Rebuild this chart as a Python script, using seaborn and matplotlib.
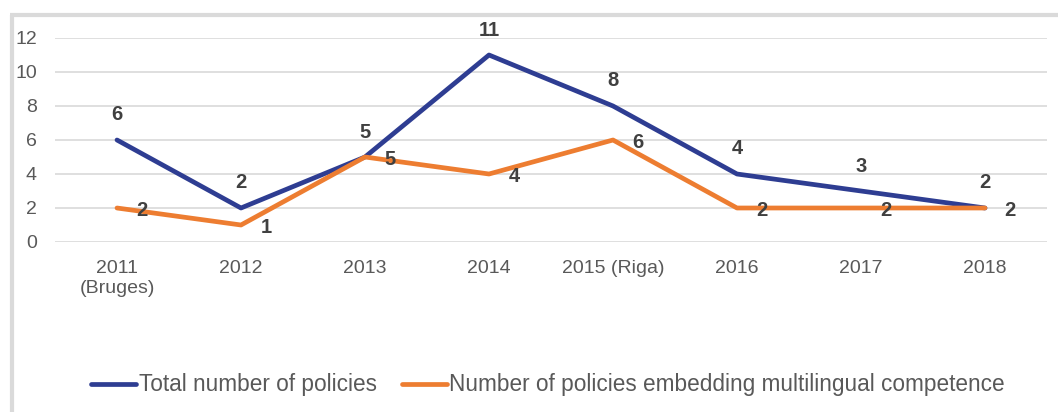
import numpy as np
import pandas as pd
import matplotlib.pyplot as plt
from matplotlib.lines import Line2D
import seaborn as sns

years = ["2011\n(Bruges)", "2012", "2013", "2014", "2015 (Riga)", "2016", "2017", "2018"]
total_policies = [6, 2, 5, 11, 8, 4, 3, 2]
multilingual_policies = [2, 1, 5, 4, 6, 2, 2, 2]
series_names = ["Total number of policies",
                "Number of policies embedding multilingual competence"]
y_ticks = [0, 2, 4, 6, 8, 10, 12]

BLUE = "#2E3D92"
ORANGE = "#ED7D31"
GRID = "#D9D9D9"
TEXT = "#595959"
LABEL = "#404040"

sns.set_style("white")
plt.rcParams["font.family"] = ["Liberation Sans", "DejaVu Sans"]

pos = np.arange(len(years))
df = pd.DataFrame({
    "pos": np.concatenate([pos, pos]),
    "value": total_policies + multilingual_policies,
    "series": [series_names[0]] * len(years) + [series_names[1]] * len(years),
})

fig = plt.figure(figsize=(10.58, 4.12), dpi=100)
ax = fig.add_axes([55 / 1058, 170 / 412, 992 / 1058, 204 / 412])

sns.lineplot(data=df, x="pos", y="value", hue="series",
             palette=[BLUE, ORANGE], linewidth=3.4, sort=False,
             ax=ax, legend=False, zorder=3)

ax.set_xlim(-0.5, len(years) - 0.5)
ax.set_ylim(0, 12)
ax.set_yticks(y_ticks)
ax.set_xticks(pos)
ax.set_xticklabels(years, multialignment="center")
ax.set_xlabel("")
ax.set_ylabel("")
ax.grid(axis="y", color=GRID, linewidth=1.2)
ax.grid(axis="x", visible=False)
ax.set_axisbelow(True)
for s in ax.spines.values():
    s.set_visible(False)
ax.tick_params(axis="y", length=0, pad=13, labelsize=14, labelcolor=TEXT)
ax.tick_params(axis="x", length=0, pad=13, labelsize=14, labelcolor=TEXT)

# data labels
for x, v in zip(pos, total_policies):
    ax.annotate(str(v), (x, v), xytext=(0, 18), textcoords="offset points",
                ha="center", va="center", fontsize=14.5, fontweight="bold",
                color=LABEL, zorder=5)
for x, v in zip(pos, multilingual_policies):
    ax.annotate(str(v), (x, v), xytext=(18, -1.5), textcoords="offset points",
                ha="center", va="center", fontsize=14.5, fontweight="bold",
                color=LABEL, zorder=5)

handles = [Line2D([], [], color=BLUE, linewidth=3.4, solid_capstyle="round"),
           Line2D([], [], color=ORANGE, linewidth=3.4, solid_capstyle="round")]
leg = fig.legend(handles, series_names, loc="center", ncol=2,
                 bbox_to_anchor=(548 / 1058, 27 / 412), frameon=False,
                 fontsize=16.3, handlelength=2.0, handletextpad=0.1,
                 columnspacing=1.1)
for t in leg.get_texts():
    t.set_color(TEXT)

# outer frame (top and left edges)
fig.add_artist(Line2D([10 / 1058, 1], [1 - 15 / 412, 1 - 15 / 412],
                      transform=fig.transFigure, color="#DADADA", linewidth=3,
                      solid_capstyle="butt"))
fig.add_artist(Line2D([12 / 1058, 12 / 1058], [0, 1 - 15 / 412],
                      transform=fig.transFigure, color="#DADADA", linewidth=3,
                      solid_capstyle="butt"))

fig.savefig("out.png", dpi=100)
